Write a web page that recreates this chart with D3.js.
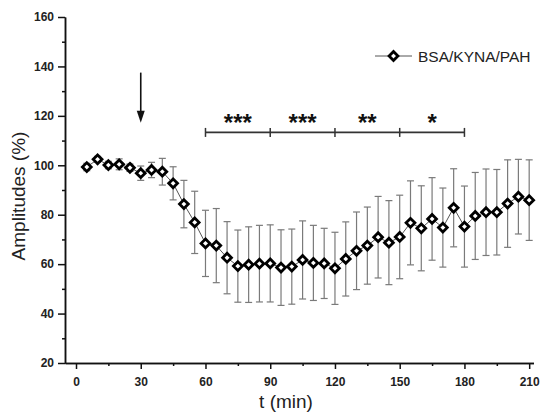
<!DOCTYPE html>
<html>
<head>
<meta charset="utf-8">
<script src="https://cdn.jsdelivr.net/npm/d3@7"></script>
<style>
  body { margin: 0; background: #fff; }
  svg { display: block; }
  .axis path, .axis line { stroke: #111; stroke-width: 1.5; }
  .axis text { font-family: Arial, "Liberation Sans", sans-serif; font-weight: bold; font-size: 12px; fill: #222; }
  .axis-title { font-family: Arial, "Liberation Sans", sans-serif; font-size: 19px; fill: #222; }
</style>
</head>
<body>
<div id="d3-container"></div>
<script>
/**
 * DATA
 * */
const times = [5, 10, 15, 20, 25, 30, 35, 40, 45, 50, 55, 60, 65, 70, 75, 80, 85, 90, 95, 100, 105,
  110, 115, 120, 125, 130, 135, 140, 145, 150, 155, 160, 165, 170, 175, 180, 185, 190, 195, 200, 205, 210];
const amplitudes = [99.3, 102.4, 100.1, 100.4, 99.0, 96.8, 98.1, 97.4, 92.7, 84.3, 76.9, 68.4, 67.5, 62.6,
  59.2, 59.8, 60.2, 60.3, 58.6, 59.0, 61.7, 60.5, 60.3, 58.3, 62.1, 65.4, 67.5, 70.9, 68.7, 71.0,
  76.7, 74.5, 78.3, 74.8, 82.8, 75.2, 79.5, 81.0, 81.0, 84.5, 87.3, 85.9];
const errors = [1.5, 1.2, 1.5, 2.2, 1.5, 2.9, 3.1, 5.4, 6.7, 9.6, 12.6, 13.4, 15.0, 14.6,
  14.6, 15.3, 15.5, 15.6, 15.3, 15.2, 15.8, 15.2, 14.2, 14.6, 15.0, 15.7, 15.6, 16.5, 17.0, 16.9,
  17.0, 17.2, 16.7, 16.0, 15.8, 16.4, 17.6, 17.5, 17.3, 17.7, 15.1, 16.3];

const xTicks = [0, 30, 60, 90, 120, 150, 180, 210];
const xMinorTicks = [15, 45, 75, 105, 135, 165, 195];
const yTicks = [20, 40, 60, 80, 100, 120, 140, 160];
const yMinorTicks = [30, 50, 70, 90, 110, 130, 150];

// significance brackets
const bracketEdges = [60, 90, 120, 150, 180];
const bracketLevel = 113.3;
const stars = ["***", "***", "**", "*"];

// application arrow
const arrowTime = 30;
const arrowFrom = 137.5, arrowTo = 117.2;

const seriesName = "BSA/KYNA/PAH";

/**
 * CONSTANTS
 * */
const width = 544, height = 414;

const data = times.map((t, i) => ({ t: t, v: amplitudes[i], e: errors[i] }));

const svg = d3.select("#d3-container")
  .append("svg")
  .attr("width", width)
  .attr("height", height);

// SCALES
const xScale = d3.scaleLinear().domain([-5.1, 212]).range([65, 533.5]);
const yScale = d3.scaleLinear().domain([20, 160]).range([363, 17]);

// AXES
svg.append("g")
  .attr("class", "axis x-axis")
  .attr("transform", `translate(0,${yScale(20)})`)
  .call(d3.axisBottom(xScale).tickValues(xMinorTicks).tickSize(3).tickSizeOuter(0).tickFormat(""));
svg.append("g")
  .attr("class", "axis x-axis")
  .attr("transform", `translate(0,${yScale(20)})`)
  .call(d3.axisBottom(xScale).tickValues(xTicks).tickSize(6).tickSizeOuter(0).tickPadding(8));

svg.append("g")
  .attr("class", "axis y-axis")
  .attr("transform", `translate(${xScale(-5.1)},0)`)
  .call(d3.axisLeft(yScale).tickValues(yMinorTicks).tickSize(3).tickSizeOuter(0).tickFormat(""));
svg.append("g")
  .attr("class", "axis y-axis")
  .attr("transform", `translate(${xScale(-5.1)},0)`)
  .call(d3.axisLeft(yScale).tickValues(yTicks).tickSize(7).tickSizeOuter(0).tickPadding(4));

// axis titles
svg.append("text")
  .attr("class", "axis-title")
  .attr("x", 286)
  .attr("y", 408)
  .attr("text-anchor", "middle")
  .text("t (min)");

svg.append("text")
  .attr("class", "axis-title")
  .attr("transform", "translate(25,196) rotate(-90)")
  .attr("text-anchor", "middle")
  .text("Amplitudes (%)");

// ERROR BARS
const capW = 3.5;
const bars = svg.append("g").attr("stroke", "#7a7a7a").attr("stroke-width", 1.2);
bars.selectAll(".err")
  .data(data)
  .join("line")
  .attr("class", "err")
  .attr("x1", d => xScale(d.t))
  .attr("x2", d => xScale(d.t))
  .attr("y1", d => yScale(d.v - d.e))
  .attr("y2", d => yScale(d.v + d.e));
bars.selectAll(".cap-top")
  .data(data)
  .join("line")
  .attr("class", "cap-top")
  .attr("x1", d => xScale(d.t) - capW)
  .attr("x2", d => xScale(d.t) + capW)
  .attr("y1", d => yScale(d.v + d.e))
  .attr("y2", d => yScale(d.v + d.e));
bars.selectAll(".cap-bot")
  .data(data)
  .join("line")
  .attr("class", "cap-bot")
  .attr("x1", d => xScale(d.t) - capW)
  .attr("x2", d => xScale(d.t) + capW)
  .attr("y1", d => yScale(d.v - d.e))
  .attr("y2", d => yScale(d.v - d.e));

// LINE
const line = d3.line().x(d => xScale(d.t)).y(d => yScale(d.v));
svg.append("path")
  .datum(data)
  .attr("fill", "none")
  .attr("stroke", "#555")
  .attr("stroke-width", 1)
  .attr("d", line);

// DIAMONDS
const diamond = "M0,-4.4L4.4,0L0,4.4L-4.4,0Z";
svg.selectAll(".dot")
  .data(data)
  .join("path")
  .attr("class", "dot")
  .attr("d", diamond)
  .attr("transform", d => `translate(${xScale(d.t)},${yScale(d.v)})`)
  .attr("fill", "#fff")
  .attr("stroke", "#000")
  .attr("stroke-width", 2.8);

// ARROW
const ax = xScale(arrowTime);
svg.append("line")
  .attr("x1", ax).attr("x2", ax)
  .attr("y1", yScale(arrowFrom)).attr("y2", yScale(arrowTo) - 8)
  .attr("stroke", "#111").attr("stroke-width", 1.6);
svg.append("path")
  .attr("d", `M${ax - 4},${yScale(arrowTo) - 12}L${ax + 4},${yScale(arrowTo) - 12}L${ax},${yScale(arrowTo)}Z`)
  .attr("fill", "#111");

// SIGNIFICANCE BRACKETS
const by = yScale(bracketLevel);
svg.append("line")
  .attr("x1", xScale(bracketEdges[0]))
  .attr("x2", xScale(bracketEdges[bracketEdges.length - 1]))
  .attr("y1", by).attr("y2", by)
  .attr("stroke", "#333").attr("stroke-width", 1.8);
svg.selectAll(".btick")
  .data(bracketEdges)
  .join("line")
  .attr("class", "btick")
  .attr("x1", d => xScale(d)).attr("x2", d => xScale(d))
  .attr("y1", by - 4.5).attr("y2", by + 4.5)
  .attr("stroke", "#333").attr("stroke-width", 1.5);
svg.selectAll(".star")
  .data(stars)
  .join("text")
  .attr("class", "star")
  .attr("x", (d, i) => xScale((bracketEdges[i] + bracketEdges[i + 1]) / 2))
  .attr("y", by - 1)
  .attr("text-anchor", "middle")
  .attr("font-family", "Arial, 'Liberation Sans', sans-serif")
  .attr("font-weight", "bold")
  .attr("font-size", 24)
  .attr("fill", "#111")
  .text(d => d);

// LEGEND
const lg = svg.append("g").attr("transform", "translate(375,56)");
lg.append("line").attr("x1", 0).attr("x2", 37).attr("y1", 0).attr("y2", 0)
  .attr("stroke", "#555").attr("stroke-width", 1);
lg.append("path").attr("d", diamond).attr("transform", "translate(18.5,0)")
  .attr("fill", "#fff").attr("stroke", "#000").attr("stroke-width", 2.8);
lg.append("text")
  .attr("x", 43).attr("y", 5.5)
  .attr("font-family", "Arial, 'Liberation Sans', sans-serif")
  .attr("font-size", 15.5)
  .attr("fill", "#222")
  .text(seriesName);
</script>
</body>
</html>
